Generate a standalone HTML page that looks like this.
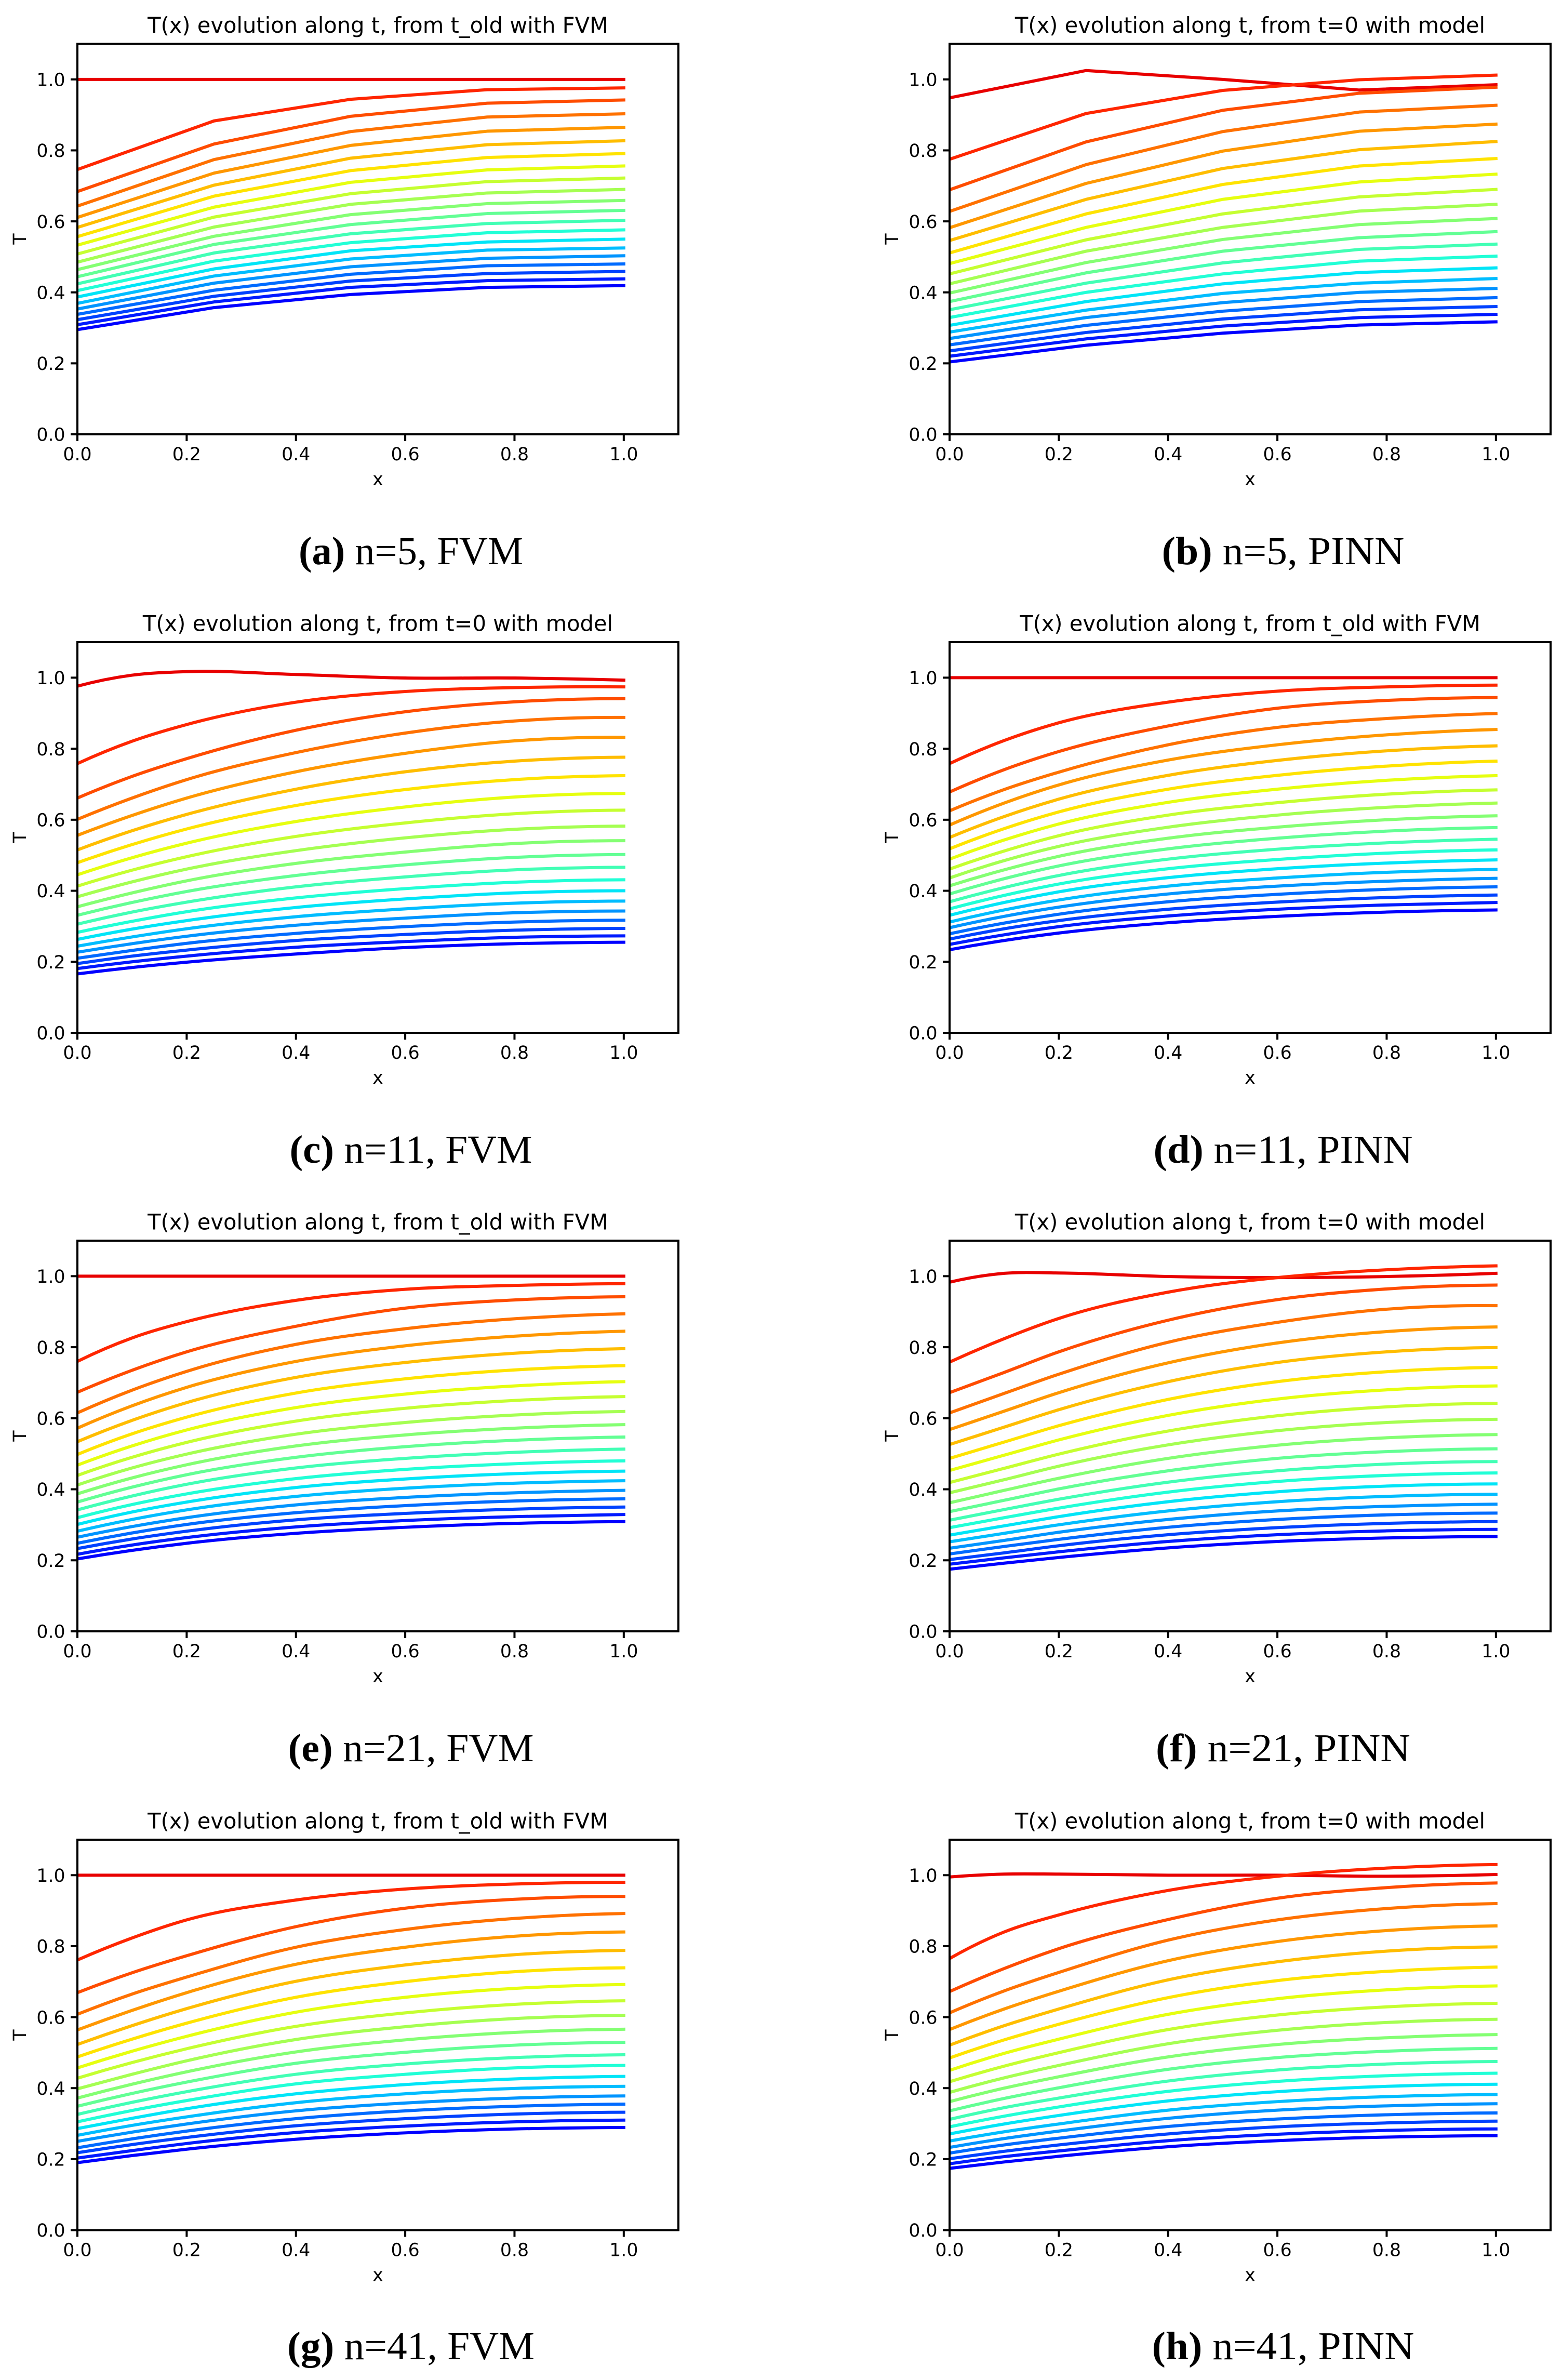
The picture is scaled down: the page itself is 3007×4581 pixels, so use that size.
<!DOCTYPE html>
<html lang="en">
<head>
<meta charset="utf-8">
<title>T(x) evolution along t: FVM and PINN panels</title>
<style>
html,body{margin:0;padding:0;background:#fff;}
svg{display:block;}
.title{font:41.6px "DejaVu Sans",sans-serif;text-anchor:middle;fill:#000;}
.axlabel{font:34.7px "DejaVu Sans",sans-serif;text-anchor:middle;fill:#000;}
.tick{font:34.7px "DejaVu Sans",sans-serif;fill:#000;}
.caption{font:76px "Liberation Serif",serif;text-anchor:middle;fill:#000;}
.caption tspan{font-weight:bold;}
</style>
</head>
<body>
<svg id="figure" xmlns="http://www.w3.org/2000/svg" width="3007" height="4581" viewBox="0 0 3007 4581">
<rect width="3007" height="4581" fill="#fff"/>

<g id="panel-a">
<text class="title" x="727.5" y="63">T(x) evolution along t, from t_old with FVM</text>
<text class="axlabel" x="727.5" y="934">x</text>
<text class="axlabel" transform="translate(50 460) rotate(-90)">T</text>
<text class="caption" x="791" y="1086" textLength="432" lengthAdjust="spacingAndGlyphs"><tspan>(a)</tspan> n=5, FVM</text>
</g>
<g id="panel-b">
<text class="title" x="2406.5" y="63">T(x) evolution along t, from t=0 with model</text>
<text class="axlabel" x="2406.5" y="934">x</text>
<text class="axlabel" transform="translate(1729 460) rotate(-90)">T</text>
<text class="caption" x="2470" y="1086" textLength="467" lengthAdjust="spacingAndGlyphs"><tspan>(b)</tspan> n=5, PINN</text>
</g>
<g id="panel-c">
<text class="title" x="727.5" y="1214.5">T(x) evolution along t, from t=0 with model</text>
<text class="axlabel" x="727.5" y="2086">x</text>
<text class="axlabel" transform="translate(50 1612) rotate(-90)">T</text>
<text class="caption" x="791" y="2238" textLength="467" lengthAdjust="spacingAndGlyphs"><tspan>(c)</tspan> n=11, FVM</text>
</g>
<g id="panel-d">
<text class="title" x="2406.5" y="1214.5">T(x) evolution along t, from t_old with FVM</text>
<text class="axlabel" x="2406.5" y="2086">x</text>
<text class="axlabel" transform="translate(1729 1612) rotate(-90)">T</text>
<text class="caption" x="2470" y="2238" textLength="499" lengthAdjust="spacingAndGlyphs"><tspan>(d)</tspan> n=11, PINN</text>
</g>
<g id="panel-e">
<text class="title" x="727.5" y="2366.5">T(x) evolution along t, from t_old with FVM</text>
<text class="axlabel" x="727.5" y="3238">x</text>
<text class="axlabel" transform="translate(50 2764) rotate(-90)">T</text>
<text class="caption" x="791" y="3390" textLength="473" lengthAdjust="spacingAndGlyphs"><tspan>(e)</tspan> n=21, FVM</text>
</g>
<g id="panel-f">
<text class="title" x="2406.5" y="2366.5">T(x) evolution along t, from t=0 with model</text>
<text class="axlabel" x="2406.5" y="3238">x</text>
<text class="axlabel" transform="translate(1729 2764) rotate(-90)">T</text>
<text class="caption" x="2470" y="3390" textLength="490" lengthAdjust="spacingAndGlyphs"><tspan>(f)</tspan> n=21, PINN</text>
</g>
<g id="panel-g">
<text class="title" x="727.5" y="3519.5">T(x) evolution along t, from t_old with FVM</text>
<text class="axlabel" x="727.5" y="4390.5">x</text>
<text class="axlabel" transform="translate(50 3917) rotate(-90)">T</text>
<text class="caption" x="791" y="4541" textLength="476" lengthAdjust="spacingAndGlyphs"><tspan>(g)</tspan> n=41, FVM</text>
</g>
<g id="panel-h">
<text class="title" x="2406.5" y="3519.5">T(x) evolution along t, from t=0 with model</text>
<text class="axlabel" x="2406.5" y="4390.5">x</text>
<text class="axlabel" transform="translate(1729 3917) rotate(-90)">T</text>
<text class="caption" x="2470" y="4541" textLength="505" lengthAdjust="spacingAndGlyphs"><tspan>(h)</tspan> n=41, PINN</text>
</g>
</svg>
<script>
const tickValues = [0, 0.2, 0.4, 0.6, 0.8, 1.0];
const tickLabels = ["0.0", "0.2", "0.4", "0.6", "0.8", "1.0"];
const xCoarse = [0, 0.25, 0.5, 0.75, 1];
const xFine = [0, 0.1, 0.2, 0.4, 0.6, 0.8, 1];

const seriesA = [
[1,1,1,1,1],
[.746,.883,.944,.971,.976],
[.684,.818,.896,.933,.942],
[.643,.774,.853,.894,.903],
[.611,.736,.814,.854,.865],
[.583,.702,.778,.816,.827],
[.557,.671,.743,.780,.791],
[.533,.640,.710,.745,.756],
[.508,.612,.678,.712,.722],
[.485,.584,.648,.680,.690],
[.464,.558,.619,.650,.659],
[.444,.535,.591,.622,.631],
[.424,.511,.565,.594,.603],
[.405,.488,.540,.568,.576],
[.387,.466,.517,.542,.550],
[.369,.446,.494,.519,.525],
[.353,.426,.472,.496,.503],
[.338,.406,.451,.475,.480],
[.323,.389,.432,.453,.459],
[.309,.373,.414,.433,.438],
[.295,.357,.394,.414,.419]];

const seriesB = [
[.948,1.025,1.0,.970,.985],
[.775,.904,.969,.999,1.012],
[.689,.824,.913,.961,.978],
[.628,.760,.853,.908,.927],
[.582,.707,.798,.854,.874],
[.546,.662,.749,.802,.825],
[.511,.621,.704,.756,.777],
[.481,.583,.662,.711,.733],
[.452,.548,.621,.669,.690],
[.424,.516,.583,.629,.648],
[.398,.484,.549,.591,.608],
[.374,.455,.516,.554,.571],
[.351,.426,.483,.521,.536],
[.329,.400,.452,.488,.502],
[.307,.374,.424,.456,.469],
[.288,.350,.397,.426,.439],
[.270,.329,.371,.400,.411],
[.252,.307,.347,.374,.385],
[.235,.287,.325,.351,.360],
[.220,.269,.305,.329,.338],
[.204,.251,.285,.308,.317]];

const seriesC = [
[.976,1.007,1.017,1.009,.999,.999,.993],
[.758,.821,.868,.931,.961,.972,.974],
[.661,.722,.772,.852,.904,.932,.941],
[.601,.661,.713,.789,.844,.878,.888],
[.556,.612,.661,.735,.787,.822,.832],
[.515,.569,.615,.686,.735,.765,.776],
[.479,.530,.574,.640,.685,.713,.724],
[.445,.493,.534,.595,.636,.664,.674],
[.413,.458,.496,.553,.591,.617,.627],
[.383,.425,.461,.513,.549,.573,.582],
[.355,.394,.428,.477,.509,.533,.541],
[.331,.367,.398,.443,.473,.494,.502],
[.306,.340,.368,.411,.439,.459,.466],
[.283,.314,.341,.380,.406,.424,.431],
[.263,.292,.316,.353,.377,.394,.400],
[.244,.270,.293,.327,.349,.365,.371],
[.227,.251,.272,.303,.323,.338,.343],
[.210,.232,.252,.280,.299,.312,.317],
[.195,.216,.233,.260,.277,.289,.294],
[.181,.200,.216,.241,.257,.269,.273],
[.166,.184,.199,.222,.240,.251,.255]];

const seriesD = [
[1,1,1,1,1,1,1],
[.758,.823,.873,.931,.962,.974,.979],
[.678,.741,.792,.864,.914,.936,.944],
[.625,.685,.734,.811,.860,.885,.899],
[.585,.647,.698,.768,.811,.839,.854],
[.550,.609,.658,.725,.767,.794,.808],
[.518,.575,.622,.686,.725,.751,.765],
[.489,.543,.588,.649,.686,.711,.724],
[.461,.512,.555,.613,.648,.672,.684],
[.436,.485,.525,.579,.613,.635,.647],
[.414,.459,.497,.548,.579,.600,.611],
[.391,.434,.470,.518,.548,.568,.578],
[.369,.409,.443,.489,.517,.535,.545],
[.349,.387,.419,.462,.488,.506,.515],
[.331,.367,.397,.437,.462,.478,.487],
[.312,.346,.374,.413,.436,.452,.460],
[.296,.328,.354,.391,.413,.427,.435],
[.279,.309,.334,.369,.390,.404,.411],
[.264,.293,.316,.348,.368,.381,.388],
[.249,.276,.299,.329,.348,.360,.367],
[.234,.260,.281,.310,.328,.340,.346]];

const seriesE = [
[1,1,1,1,1,1,1],
[.760,.826,.872,.932,.963,.974,.979],
[.673,.735,.787,.859,.910,.933,.942],
[.615,.679,.732,.808,.852,.880,.894],
[.572,.635,.687,.760,.804,.831,.845],
[.534,.594,.644,.715,.757,.783,.796],
[.498,.556,.603,.671,.711,.736,.748],
[.468,.522,.567,.630,.668,.691,.703],
[.439,.490,.532,.592,.628,.650,.661],
[.412,.460,.499,.555,.588,.609,.619],
[.387,.432,.469,.522,.553,.572,.582],
[.364,.406,.441,.490,.520,.538,.547],
[.342,.381,.414,.460,.487,.504,.513],
[.320,.357,.387,.430,.456,.472,.480],
[.301,.336,.364,.405,.429,.444,.451],
[.282,.315,.342,.380,.403,.417,.424],
[.265,.295,.320,.356,.377,.390,.397],
[.248,.277,.301,.334,.354,.367,.373],
[.233,.260,.282,.314,.332,.344,.350],
[.217,.243,.264,.294,.312,.323,.329],
[.204,.228,.248,.276,.293,.304,.309]];

const seriesF = [
[.983,1.008,1.009,.999,.996,.999,1.008],
[.758,.824,.881,.955,.996,1.018,1.029],
[.672,.729,.787,.876,.934,.964,.975],
[.615,.670,.724,.814,.870,.907,.917],
[.568,.620,.672,.756,.812,.844,.857],
[.526,.575,.624,.703,.757,.787,.799],
[.487,.533,.579,.653,.703,.731,.743],
[.453,.496,.539,.608,.654,.680,.691],
[.419,.459,.499,.564,.607,.632,.642],
[.390,.427,.465,.525,.565,.588,.597],
[.362,.397,.431,.487,.524,.545,.554],
[.337,.369,.401,.452,.487,.506,.514],
[.313,.343,.372,.420,.452,.471,.478],
[.292,.320,.347,.392,.422,.439,.446],
[.271,.297,.323,.365,.393,.409,.415],
[.252,.276,.300,.339,.365,.380,.386],
[.234,.256,.279,.315,.339,.352,.358],
[.218,.239,.259,.293,.315,.328,.333],
[.202,.221,.241,.272,.292,.304,.309],
[.189,.207,.224,.253,.272,.283,.287],
[.175,.192,.208,.235,.253,.263,.267]];

const seriesG = [
[1,1,1,1,1,1,1],
[.761,.823,.874,.930,.961,.975,.980],
[.669,.725,.773,.855,.907,.932,.940],
[.608,.665,.713,.797,.847,.878,.892],
[.564,.619,.669,.749,.797,.828,.840],
[.523,.576,.624,.701,.747,.776,.788],
[.488,.538,.583,.656,.700,.728,.739],
[.457,.504,.546,.614,.656,.681,.692],
[.428,.472,.511,.574,.612,.636,.646],
[.398,.439,.477,.537,.573,.596,.605],
[.372,.411,.446,.502,.536,.557,.566],
[.349,.385,.417,.470,.501,.521,.529],
[.326,.360,.390,.439,.468,.486,.494],
[.305,.337,.365,.412,.439,.457,.464],
[.286,.315,.342,.384,.410,.426,.433],
[.267,.295,.319,.359,.384,.399,.405],
[.250,.276,.299,.336,.358,.372,.378],
[.232,.257,.279,.314,.336,.349,.355],
[.218,.241,.261,.294,.314,.327,.332],
[.203,.224,.244,.275,.293,.305,.310],
[.190,.210,.228,.256,.274,.285,.289]];

const seriesH = [
[.995,1.003,1.003,1.000,1.000,.997,1.002],
[.765,.840,.888,.957,.997,1.020,1.030],
[.672,.737,.793,.875,.935,.965,.978],
[.612,.674,.726,.817,.874,.906,.920],
[.565,.623,.673,.759,.813,.844,.857],
[.521,.576,.623,.705,.756,.786,.798],
[.485,.536,.580,.655,.703,.729,.741],
[.450,.498,.538,.608,.652,.677,.688],
[.418,.462,.500,.565,.606,.629,.639],
[.388,.429,.464,.525,.563,.585,.594],
[.362,.400,.432,.488,.523,.542,.551],
[.336,.371,.401,.453,.486,.504,.512],
[.312,.345,.372,.420,.451,.468,.475],
[.291,.321,.347,.391,.419,.435,.442],
[.271,.299,.323,.364,.390,.405,.411],
[.251,.277,.299,.338,.362,.376,.382],
[.233,.258,.279,.315,.338,.350,.356],
[.217,.240,.259,.292,.313,.325,.330],
[.201,.222,.240,.271,.291,.302,.307],
[.187,.207,.223,.252,.270,.281,.285],
[.174,.192,.208,.235,.252,.262,.266]];

const SVG_NS = "http://www.w3.org/2000/svg";
const AXIS_MAX = 1.1;

function channel(t, stops) {
  for (let k = 1; k < stops.length; k++) {
    if (t <= stops[k][0]) {
      const a = stops[k - 1], b = stops[k];
      return a[1] + (b[1] - a[1]) * (t - a[0]) / (b[0] - a[0]);
    }
  }
  return stops[stops.length - 1][1];
}
function jet(t) {
  const r = channel(t, [[0, 0], [.35, 0], [.66, 1], [.89, 1], [1, .5]]);
  const g = channel(t, [[0, 0], [.125, 0], [.375, 1], [.64, 1], [.91, 0], [1, 0]]);
  const b = channel(t, [[0, .5], [.11, 1], [.34, 1], [.65, 0], [1, 0]]);
  return "rgb(" + Math.round(r * 255) + "," + Math.round(g * 255) + "," + Math.round(b * 255) + ")";
}
function make(tag, attrs) {
  const el = document.createElementNS(SVG_NS, tag);
  for (const key in attrs) el.setAttribute(key, attrs[key]);
  return el;
}
function linePath(pts) {
  return pts.map((p, i) => (i ? "L" : "M") + p[0].toFixed(2) + " " + p[1].toFixed(2)).join("");
}
function smoothPath(pts) {
  const n = pts.length;
  const w = [], d0 = [];
  for (let i = 0; i < n - 1; i++) {
    w.push(pts[i + 1][0] - pts[i][0]);
    d0.push((pts[i + 1][1] - pts[i][1]) / w[i]);
  }
  const slope = pts.map((p, i) => {
    if (i === 0) return d0[0] + (d0[0] - d0[1]) * w[0] / (w[0] + w[1]);
    if (i === n - 1) return d0[n - 2] + (d0[n - 2] - d0[n - 3]) * w[n - 2] / (w[n - 2] + w[n - 3]);
    return (w[i] * d0[i - 1] + w[i - 1] * d0[i]) / (w[i - 1] + w[i]);
  });
  let d = "M" + pts[0][0].toFixed(2) + " " + pts[0][1].toFixed(2);
  for (let i = 0; i < n - 1; i++) {
    const h = w[i] / 3;
    d += "C" + (pts[i][0] + h).toFixed(2) + " " + (pts[i][1] + slope[i] * h).toFixed(2) + " " +
      (pts[i + 1][0] - h).toFixed(2) + " " + (pts[i + 1][1] - slope[i + 1] * h).toFixed(2) + " " +
      pts[i + 1][0].toFixed(2) + " " + pts[i + 1][1].toFixed(2);
  }
  return d;
}
function drawPanel(id, left, right, top, bottom, xs, series, smooth) {
  const host = document.getElementById(id);
  const sx = v => left + (right - left) * v / AXIS_MAX;
  const sy = v => bottom - (bottom - top) * v / AXIS_MAX;

  const clip = make("clipPath", { id: "clip-" + id });
  clip.appendChild(make("rect", { x: left, y: top, width: right - left, height: bottom - top }));
  host.appendChild(clip);

  const lines = make("g", { "clip-path": "url(#clip-" + id + ")" });
  
  
  host.appendChild(lines);

  series.forEach((values, i) => {
    const pts = values.map((v, k) => [sx(xs[k]), sy(v)]);
    const t = 0.91 - 0.8 * i / (series.length - 1);
    const path = make("path", {
      d: smooth ? smoothPath(pts) : linePath(pts),
      fill: "none",
      stroke: jet(t),
      "stroke-width": 6,
      "stroke-linecap": "square",
      "stroke-linejoin": "round"
    });
    
    
    lines.appendChild(path);
  });

  const frame = make("rect", {
    x: left, y: top, width: right - left, height: bottom - top,
    fill: "none", stroke: "#000", "stroke-width": 4
  });
  
  
  host.appendChild(frame);

  tickValues.forEach((v, k) => {
    const xt = make("line", { x1: sx(v), x2: sx(v), y1: bottom, y2: bottom + 13, stroke: "#000", "stroke-width": 4 });
    
    
    host.appendChild(xt);

    const xl = make("text", { class: "tick", x: sx(v), y: bottom + 50, "text-anchor": "middle" });
    
    
    xl.textContent = tickLabels[k];
    host.appendChild(xl);

    const yt = make("line", { x1: left - 13, x2: left, y1: sy(v), y2: sy(v), stroke: "#000", "stroke-width": 4 });
    
    
    host.appendChild(yt);

    const yl = make("text", { class: "tick", x: left - 23.4, y: sy(v) + 12.7, "text-anchor": "end" });
    
    
    yl.textContent = tickLabels[k];
    host.appendChild(yl);
  });
}
drawPanel("panel-a", 149, 1306, 84.5, 836, xCoarse, seriesA, false);
drawPanel("panel-b", 1828, 2985, 84.5, 836, xCoarse, seriesB, false);
drawPanel("panel-c", 149, 1306, 1236, 1988, xFine, seriesC, true);
drawPanel("panel-d", 1828, 2985, 1236, 1988, xFine, seriesD, true);
drawPanel("panel-e", 149, 1306, 2388, 3140, xFine, seriesE, true);
drawPanel("panel-f", 1828, 2985, 2388, 3140, xFine, seriesF, true);
drawPanel("panel-g", 149, 1306, 3541, 4292.5, xFine, seriesG, true);
drawPanel("panel-h", 1828, 2985, 3541, 4292.5, xFine, seriesH, true);
</script>
</body>
</html>
